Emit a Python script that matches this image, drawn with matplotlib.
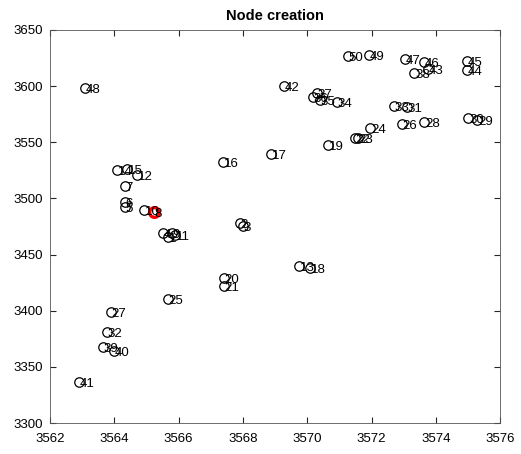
import matplotlib.pyplot as plt

plt.rcParams['font.family'] = ['Liberation Sans', 'DejaVu Sans']

node_ids = list(range(1, 51))
node_x = [3565.67, 3567.91, 3568.00, 3565.52, 3564.33, 3564.33, 3564.33, 3565.24, 3565.80, 3564.92,
          3565.89, 3564.71, 3569.75, 3564.08, 3564.40, 3567.38, 3568.88, 3570.09, 3570.65, 3567.41,
          3567.41, 3571.49, 3571.58, 3571.96, 3565.67, 3572.95, 3563.90, 3573.64, 3575.29, 3575.01,
          3573.11, 3563.77, 3572.70, 3570.93, 3570.40, 3570.18, 3570.31, 3573.33, 3563.65, 3563.99,
          3562.90, 3569.28, 3573.76, 3574.97, 3574.97, 3573.64, 3573.05, 3563.09, 3571.93, 3571.27]
node_y = [3465.7, 3478.1, 3475.5, 3469.2, 3492.4, 3496.8, 3511.1, 3487.9, 3469.2, 3489.7,
          3467.5, 3520.9, 3439.8, 3525.3, 3526.2, 3532.5, 3539.6, 3438.1, 3547.6, 3429.2,
          3422.0, 3553.8, 3553.8, 3562.7, 3410.5, 3566.3, 3398.9, 3568.1, 3569.9, 3571.6,
          3581.4, 3381.1, 3582.3, 3585.9, 3587.7, 3590.3, 3593.9, 3611.7, 3367.7, 3364.2,
          3336.6, 3600.1, 3615.3, 3614.4, 3622.4, 3621.5, 3624.2, 3598.4, 3627.7, 3626.8]
sink_id = 8

fig = plt.figure(figsize=(5.21, 4.54), dpi=100)
ax = fig.add_axes([0.096, 0.068, 0.864, 0.866])

ax.plot(node_x, node_y, 'o', mfc='none', mec='black', ms=6.8, mew=0.9)
for i, x, y in zip(node_ids, node_x, node_y):
    ax.text(x + 0.02, y - 2.0, str(i), fontsize=9.5, ha='left', va='center')
ax.plot(node_x[sink_id - 1], node_y[sink_id - 1], 'o', mfc='none', mec='red', ms=7, mew=2.4)

ax.set_xlim(3562, 3576)
ax.set_ylim(3300, 3650)
ax.set_xticks(range(3562, 3577, 2))
ax.set_yticks(range(3300, 3651, 50))
ax.tick_params(direction='in', labelsize=9.5, length=4, color='#262626',
               top=True, right=True)
ax.tick_params(axis='x', pad=7)
ax.tick_params(axis='y', pad=5)
for s in ax.spines.values():
    s.set_color('#555555')
    s.set_linewidth(0.6)
ax.set_title('Node creation', fontsize=10.5, fontweight='bold', pad=7)

plt.savefig('out.png', dpi=100)
plt.close()
